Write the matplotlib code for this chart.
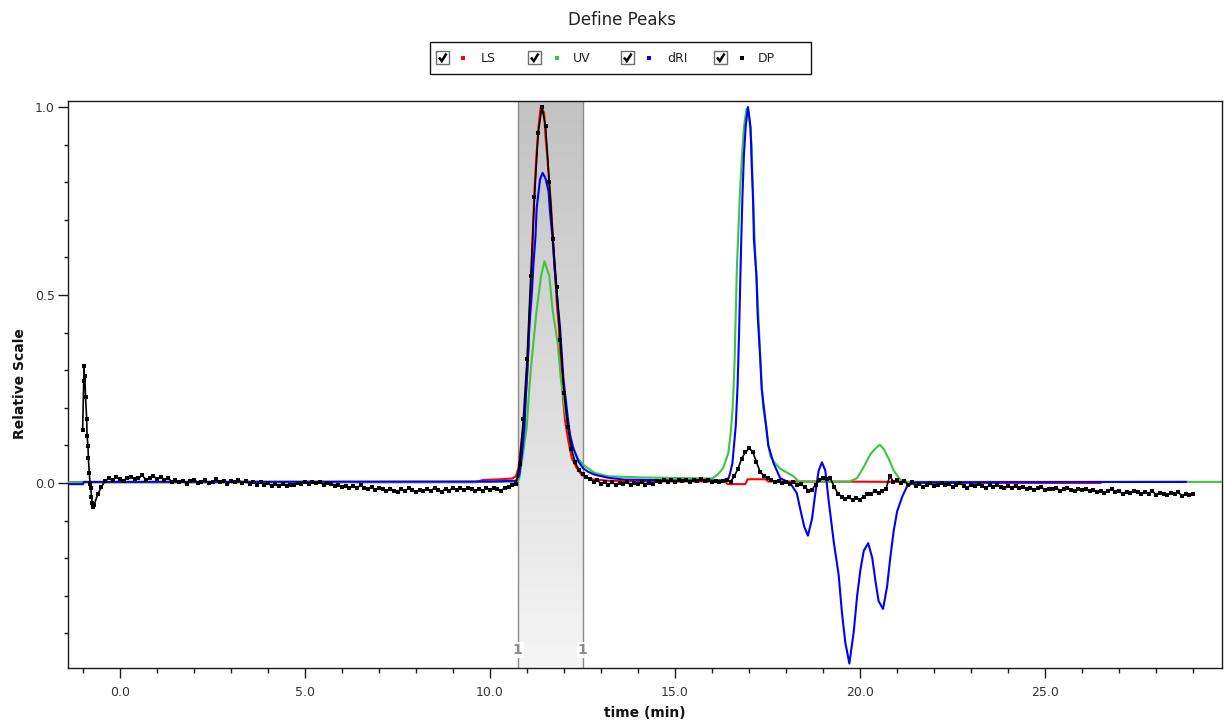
import numpy as np
import matplotlib
matplotlib.use("Agg")
import matplotlib.pyplot as plt
from matplotlib.colors import LinearSegmentedColormap
from matplotlib.patches import Rectangle
from matplotlib.lines import Line2D
from matplotlib.transforms import Affine2D
from matplotlib.ticker import MultipleLocator, FixedLocator, FixedFormatter

# ---------------------------------------------------------------- text
TITLE = "Define Peaks"
X_LABEL = "time (min)"
Y_LABEL = "Relative Scale"
SERIES_NAMES = ["LS", "UV", "dRI", "DP"]
SERIES_COLORS = ["#ff0000", "#3ec43e", "#0000ff", "#000000"]

X_TICKS = [0.0, 5.0, 10.0, 15.0, 20.0, 25.0]
X_TICK_LABELS = ["0.0", "5.0", "10.0", "15.0", "20.0", "25.0"]
Y_TICKS = [0.0, 0.5, 1.0]
Y_TICK_LABELS = ["0.0", "0.5", "1.0"]

# defined peak window (min) and its label
PEAK_START = 10.75
PEAK_END = 12.5
PEAK_LABEL = "1"

# ---------------------------------------------------------------- LS (light scattering)
LS_T = [-1.4, 9.6, 9.8, 10.3, 10.6, 10.7, 10.77, 10.86, 10.9, 10.95, 11.0, 11.04,
        11.08, 11.13, 11.16, 11.2, 11.25, 11.31, 11.37, 11.46, 11.5, 11.55, 11.59,
        11.64, 11.69, 11.73, 11.78, 11.81, 11.86, 11.89, 11.94, 11.98, 12.03, 12.12,
        12.21, 12.34, 12.48, 12.6, 12.75, 13.2, 14.0, 16.35, 16.42, 16.9, 16.96,
        17.45, 17.52, 19.0, 21.0, 21.5, 26.5]
LS_V = [0.002, 0.002, 0.008, 0.010, 0.012, 0.018, 0.040, 0.120, 0.147, 0.210, 0.280,
        0.360, 0.470, 0.560, 0.670, 0.776, 0.866, 0.947, 1.000, 0.985, 0.920, 0.866,
        0.810, 0.750, 0.668, 0.596, 0.524, 0.470, 0.416, 0.344, 0.272, 0.218, 0.164,
        0.110, 0.066, 0.040, 0.021, 0.015, 0.010, 0.006, 0.004, 0.004, -0.003, -0.003,
        0.010, 0.010, 0.004, 0.004, 0.003, 0.000, 0.000]

# ---------------------------------------------------------------- UV
UV_T = [-1.4, 10.6, 10.75, 10.79, 10.86, 10.99, 11.05, 11.1, 11.17, 11.26, 11.38,
        11.47, 11.6, 11.69, 11.83, 11.91, 12.03, 12.21, 12.38, 12.56, 12.83, 13.19,
        14.0, 16.0, 16.16, 16.3, 16.44, 16.5, 16.55, 16.58, 16.61, 16.64, 16.67,
        16.71, 16.75, 16.8, 16.86, 16.93, 16.99, 17.07, 17.11, 17.16, 17.2, 17.25,
        17.29, 17.34, 17.38, 17.46, 17.52, 17.58, 17.7, 17.84, 18.02, 18.2, 18.33,
        18.5, 19.69, 19.92, 20.1, 20.28, 20.42, 20.53, 20.64, 20.78, 20.91, 21.09,
        21.28, 29.8]
UV_V = [0.002, 0.003, 0.006, 0.012, 0.057, 0.147, 0.237, 0.300, 0.371, 0.461, 0.551,
        0.590, 0.551, 0.461, 0.371, 0.280, 0.190, 0.100, 0.064, 0.045, 0.027, 0.018,
        0.015, 0.012, 0.023, 0.040, 0.080, 0.130, 0.190, 0.250, 0.330, 0.450, 0.570,
        0.668, 0.767, 0.857, 0.946, 0.995, 0.985, 0.897, 0.750, 0.628, 0.549, 0.450,
        0.360, 0.270, 0.200, 0.152, 0.100, 0.070, 0.053, 0.038, 0.028, 0.018, 0.005,
        0.003, 0.003, 0.013, 0.043, 0.077, 0.092, 0.102, 0.090, 0.063, 0.033, 0.008,
        0.003, 0.003]

# ---------------------------------------------------------------- dRI
DRI_T = [-1.4, -1.0, -0.98, 10.0, 10.7, 10.79, 10.86, 10.93, 10.97, 11.02, 11.06,
         11.13, 11.17, 11.23, 11.26, 11.35, 11.42, 11.5, 11.58, 11.62, 11.69, 11.74,
         11.8, 11.89, 11.98, 12.09, 12.16, 12.25, 12.39, 12.52, 12.65, 12.83, 13.19,
         13.64, 15.0, 16.3, 16.44, 16.48, 16.55, 16.64, 16.69, 16.73, 16.76, 16.79,
         16.82, 16.86, 16.91, 16.97, 17.04, 17.07, 17.11, 17.13, 17.2, 17.23, 17.29,
         17.34, 17.46, 17.52, 17.66, 17.84, 18.11, 18.29, 18.4, 18.49, 18.59, 18.7,
         18.79, 18.88, 18.97, 19.06, 19.15, 19.29, 19.42, 19.51, 19.6, 19.71, 19.83,
         19.92, 20.01, 20.1, 20.22, 20.33, 20.42, 20.5, 20.62, 20.73, 20.82, 20.91,
         21.0, 21.14, 21.28, 21.5, 28.8]
DRI_V = [-0.003, -0.003, 0.003, 0.004, 0.006, 0.021, 0.075, 0.147, 0.237, 0.326,
         0.416, 0.506, 0.578, 0.659, 0.731, 0.807, 0.825, 0.810, 0.776, 0.722, 0.650,
         0.578, 0.506, 0.416, 0.281, 0.183, 0.129, 0.093, 0.057, 0.039, 0.030, 0.022,
         0.014, 0.009, 0.007, 0.007, 0.012, 0.023, 0.053, 0.152, 0.260, 0.400, 0.530,
         0.650, 0.760, 0.870, 0.950, 1.000, 0.946, 0.847, 0.748, 0.648, 0.549, 0.450,
         0.350, 0.251, 0.152, 0.100, 0.053, 0.013, 0.000, -0.027, -0.077, -0.116,
         -0.140, -0.096, -0.027, 0.033, 0.055, 0.033, -0.046, -0.158, -0.244, -0.345,
         -0.424, -0.480, -0.394, -0.300, -0.230, -0.180, -0.160, -0.200, -0.264,
         -0.314, -0.335, -0.275, -0.195, -0.126, -0.076, -0.036, -0.007, 0.002, 0.003]

# ---------------------------------------------------------------- DP (viscometer)
# injection spike, irregular sample times
DP_SPIKE_T = [-1.01, -0.97, -0.96, -0.95, -0.93, -0.90, -0.89, -0.865, -0.855,
              -0.83, -0.81, -0.79, -0.77, -0.75, -0.72]
DP_SPIKE_V = [0.140, 0.312, 0.272, 0.285, 0.228, 0.169, 0.126, 0.098, 0.066,
              0.027, -0.003, -0.014, -0.036, -0.054, -0.063]
# remainder of the trace, sampled every 0.1 min from -0.7 min
DP_T_START = -0.7
DP_T_STEP = 0.1
DP_V = [
    -0.058, -0.030, -0.010, 0.006, 0.012, 0.007, 0.016, 0.011, 0.006, 0.014,
    0.017, 0.010, 0.013, 0.020, 0.009, 0.012, 0.018, 0.011, 0.015, 0.008,
    0.012, 0.004, 0.008, 0.002, 0.006, -0.002, 0.005, 0.009, 0.001, 0.004,
    0.007, -0.001, 0.004, 0.010, 0.002, 0.005, -0.003, 0.006, 0.003, 0.008,
    0.001, 0.005, -0.002, 0.004, -0.004, 0.002, -0.006, -0.001, -0.008, -0.003,
    -0.007, -0.002, -0.009, -0.004, -0.006, 0.001, -0.003, 0.002, -0.002, 0.003,
    -0.001, 0.002, -0.004, 0.001, -0.003, -0.008, -0.005, -0.011, -0.007, -0.012,
    -0.009, -0.014, -0.006, -0.012, -0.016, -0.010, -0.019, -0.013, -0.017, -0.022,
    -0.015, -0.020, -0.024, -0.017, -0.021, -0.014, -0.019, -0.025, -0.018, -0.022,
    -0.016, -0.021, -0.013, -0.019, -0.023, -0.015, -0.020, -0.012, -0.018, -0.014,
    -0.019, -0.013, -0.017, -0.022, -0.015, -0.020, -0.014, -0.018, -0.012, -0.016,
    -0.020, -0.013, -0.010, -0.006, -0.002, 0.050, 0.170, 0.330, 0.550, 0.760,
    0.930, 1.000, 0.950, 0.800, 0.650, 0.520, 0.380, 0.240, 0.150, 0.090,
    0.055, 0.035, 0.024, 0.016, 0.010, 0.004, 0.007, -0.002, 0.003, -0.004,
    0.002, -0.005, 0.001, -0.003, 0.004, -0.006, 0.000, -0.002, 0.003, -0.004,
    0.001, -0.003, 0.005, 0.002, 0.008, 0.004, 0.009, 0.003, 0.007, 0.005,
    0.009, 0.004, 0.008, 0.006, 0.010, 0.005, 0.008, 0.003, 0.006, 0.002,
    0.005, 0.008, 0.003, 0.018, 0.038, 0.065, 0.082, 0.092, 0.083, 0.055,
    0.030, 0.019, 0.012, 0.008, 0.004, 0.006, 0.001, 0.003, -0.002, 0.002,
    -0.004, -0.002, -0.010, -0.020, -0.018, -0.004, 0.008, 0.014, 0.010, 0.012,
    -0.010, -0.028, -0.036, -0.042, -0.038, -0.045, -0.040, -0.044, -0.036, -0.030,
    -0.028, -0.022, -0.027, -0.020, -0.015, 0.018, 0.004, 0.008, -0.001, 0.005,
    -0.004, 0.002, -0.008, -0.003, -0.010, -0.005, -0.001, -0.009, -0.004, 0.001,
    -0.006, -0.002, -0.010, -0.004, 0.000, -0.007, -0.012, -0.005, -0.009, -0.003,
    -0.008, -0.013, -0.006, -0.011, -0.004, -0.010, -0.014, -0.009, -0.012, -0.007,
    -0.013, -0.010, -0.016, -0.012, -0.018, -0.014, -0.011, -0.019, -0.015, -0.017,
    -0.013, -0.020, -0.016, -0.012, -0.018, -0.021, -0.015, -0.019, -0.017, -0.022,
    -0.018, -0.024, -0.020, -0.026, -0.021, -0.017, -0.025, -0.022, -0.028, -0.023,
    -0.027, -0.021, -0.025, -0.030, -0.024, -0.028, -0.022, -0.031, -0.026, -0.029,
    -0.033, -0.027, -0.030, -0.025, -0.034, -0.029, -0.032, -0.028,
]

# ---------------------------------------------------------------- figure
W, H = 1224, 724
fig = plt.figure(figsize=(W / 100, H / 100), dpi=100)
fig.patch.set_facecolor("white")

AX_L, AX_R, AX_T, AX_B = 68, 1222, 101, 668
ax = fig.add_axes([AX_L / W, 1 - AX_B / H, (AX_R - AX_L) / W, (AX_B - AX_T) / H])
XMIN, XMAX = -1.405, 29.78
YMIN, YMAX = -0.492, 1.016

# shaded peak window with a vertical grey gradient
grad = np.linspace(0.0, 1.0, 256).reshape(-1, 1)
band_cmap = LinearSegmentedColormap.from_list("band", ["#f5f5f5", "#c2c2c2"])
ax.imshow(grad, extent=[PEAK_START, PEAK_END, YMIN, YMAX], origin="lower",
          aspect="auto", cmap=band_cmap, zorder=0, interpolation="bilinear")
for edge in (PEAK_START, PEAK_END):
    ax.axvline(edge, color="#8a8a8a", lw=1.0, zorder=1)
    ax.text(edge, -0.444, PEAK_LABEL, ha="center", va="center", color="#8a8a8a",
            fontsize=10, fontweight="bold", zorder=6,
            bbox=dict(facecolor="white", edgecolor="none", pad=0.8, alpha=0.9))

# traces
dp_t = np.concatenate([DP_SPIKE_T, DP_T_START + DP_T_STEP * np.arange(len(DP_V))])
dp_v = np.concatenate([DP_SPIKE_V, DP_V])

ax.plot(LS_T, LS_V, color=SERIES_COLORS[0], lw=1.5, zorder=2)
ax.plot(UV_T, UV_V, color=SERIES_COLORS[1], lw=1.5, zorder=3)
ax.plot(DRI_T, DRI_V, color=SERIES_COLORS[2], lw=1.5, zorder=4)
ax.plot(dp_t, dp_v, color=SERIES_COLORS[3], lw=1.2, marker="s", ms=2.7,
        mew=0, zorder=5)

ax.set_xlim(XMIN, XMAX)
ax.set_ylim(YMIN, YMAX)

# axes styling
for sp in ax.spines.values():
    sp.set_color("#1a1a1a")
    sp.set_linewidth(1.0)

ax.xaxis.set_major_locator(FixedLocator(X_TICKS))
ax.xaxis.set_major_formatter(FixedFormatter(X_TICK_LABELS))
ax.xaxis.set_minor_locator(MultipleLocator(1.0))
ax.yaxis.set_major_locator(FixedLocator(Y_TICKS))
ax.yaxis.set_major_formatter(FixedFormatter(Y_TICK_LABELS))
ax.yaxis.set_minor_locator(MultipleLocator(0.1))
ax.tick_params(axis="x", which="major", direction="out", length=7, width=1,
               color="#1a1a1a", labelsize=9, labelcolor="#333333", pad=6)
ax.tick_params(axis="x", which="minor", direction="out", length=3.3, width=1,
               color="#1a1a1a")
ax.tick_params(axis="y", which="major", direction="out", length=7.5, width=1,
               color="#1a1a1a", labelsize=9, labelcolor="#333333", pad=2)
ax.tick_params(axis="y", which="minor", direction="out", length=2.8, width=1,
               color="#1a1a1a")

# title and axis labels
fig.text(622 / W, 1 - 20 / H, TITLE, ha="center", va="center", fontsize=12,
         color="#222222")
fig.text((AX_L + AX_R) / 2 / W, 1 - 713 / H, X_LABEL, ha="center", va="center",
         fontsize=10, fontweight="bold", color="#111111")
fig.text(20 / W, 1 - 384 / H, Y_LABEL, ha="center", va="center", rotation=90,
         fontsize=10, fontweight="bold", color="#111111")

# legend with check boxes, laid out in pixel coordinates (y down)
px = Affine2D().scale(1 / W, -1 / H).translate(0, 1) + fig.transFigure
fig.add_artist(Rectangle((430, 42), 381, 32, transform=px, facecolor="white",
                         edgecolor="#111111", lw=1.0))
box_x = [436, 528, 621, 714]
dot_x = [463, 557, 649, 742]
label_x = [481, 573, 667, 758]
for i, name in enumerate(SERIES_NAMES):
    bx = box_x[i]
    fig.add_artist(Rectangle((bx, 51), 13, 13, transform=px, facecolor="white",
                             edgecolor="#6e6e6e", lw=1.0))
    fig.add_artist(Line2D([bx + 3, bx + 5.8, bx + 10.5], [57.5, 61, 53.5],
                          transform=px, color="black", lw=1.8,
                          solid_capstyle="butt", solid_joinstyle="miter"))
    fig.add_artist(Line2D([dot_x[i]], [58], transform=px, marker="s", ms=2.2,
                          mew=0, color=SERIES_COLORS[i], linestyle="none"))
    fig.text(label_x[i], 58, name, transform=px, ha="left", va="center",
             fontsize=9, color="#222222")

fig.savefig("out.png", dpi=100)
